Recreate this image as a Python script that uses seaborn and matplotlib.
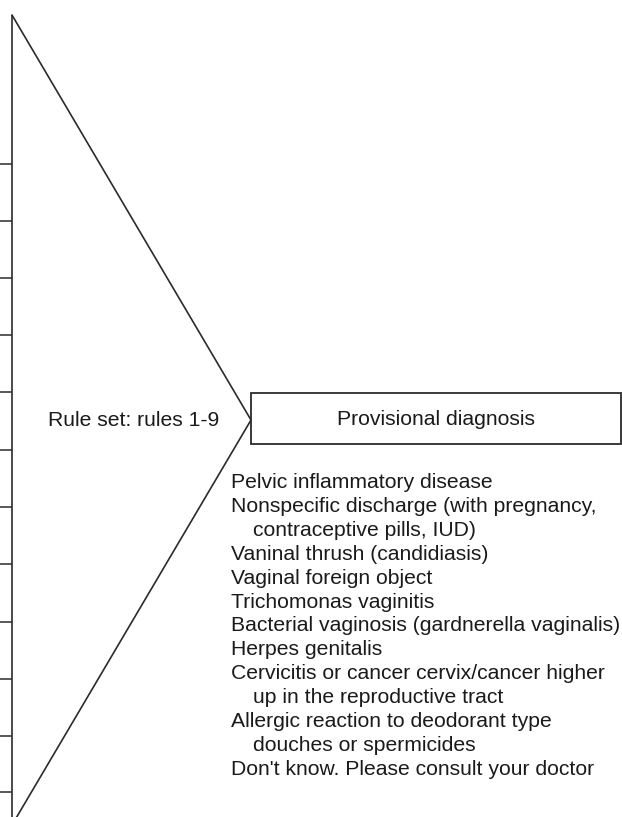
import matplotlib
matplotlib.use("Agg")
import matplotlib.pyplot as plt
import seaborn as sns
import pandas as pd
from matplotlib.patches import Rectangle

# %% Diagram content (pixel coordinates of the 622x817 canvas, y down)
tick_y = [164, 221, 278, 335, 392, 450, 507, 564, 622, 679, 736, 792]
triangle_x = [12, 251, 12]
triangle_y = [15, 420, 825]

rule_label = "Rule set: rules 1-9"
box_label = "Provisional diagnosis"

diagnoses = [
    "Pelvic inflammatory disease",
    "Nonspecific discharge (with pregnancy,",
    "contraceptive pills, IUD)",
    "Vaninal thrush (candidiasis)",
    "Vaginal foreign object",
    "Trichomonas vaginitis",
    "Bacterial vaginosis (gardnerella vaginalis)",
    "Herpes genitalis",
    "Cervicitis or cancer cervix/cancer higher",
    "up in the reproductive tract",
    "Allergic reaction to deodorant type",
    "douches or spermicides",
    "Don't know. Please consult your doctor",
]
indented = [False, False, True, False, False, False, False, False, False,
            True, False, True, False]

# %% Drawing
sns.set_theme(style="white")
plt.rcParams['font.family'] = ['Liberation Sans', 'DejaVu Sans']

W, H = 622, 817
fig = plt.figure(figsize=(W / 100, H / 100), dpi=100)
ax = fig.add_axes([0, 0, 1, 1])
ax.set_xlim(0, W)
ax.set_ylim(H, 0)
ax.axis("off")

line_col = "#2b2b2b"
text_col = "#1a1a1a"
fs = 15.2

# vertical spine and the stubs to its left
ax.vlines(12, 15, H + 5, color=line_col, lw=1.2)
ax.hlines(tick_y, 0, 12, color=line_col, lw=1.1)

# triangle outline
tri = pd.DataFrame({"x": triangle_x, "y": triangle_y})
sns.lineplot(data=tri, x="x", y="y", sort=False, estimator=None,
             color=line_col, lw=1.2, ax=ax)
ax.set_xlim(0, W)
ax.set_ylim(H, 0)

ax.text(48, 426, rule_label, fontsize=fs, color=text_col, va="baseline")

# output box
ax.add_patch(Rectangle((251, 393), 370, 51, fill=False,
                       edgecolor=line_col, lw=1.3))
ax.text(436, 425, box_label, fontsize=fs, color=text_col,
        ha="center", va="baseline")

# list of possible diagnoses
for i, (txt, ind) in enumerate(zip(diagnoses, indented)):
    ax.text(253 if ind else 231, 488 + i * 23.9, txt, fontsize=fs,
            color=text_col, va="baseline")

ax.set_xlabel("")
ax.set_ylabel("")
fig.savefig("out.png", dpi=100)
